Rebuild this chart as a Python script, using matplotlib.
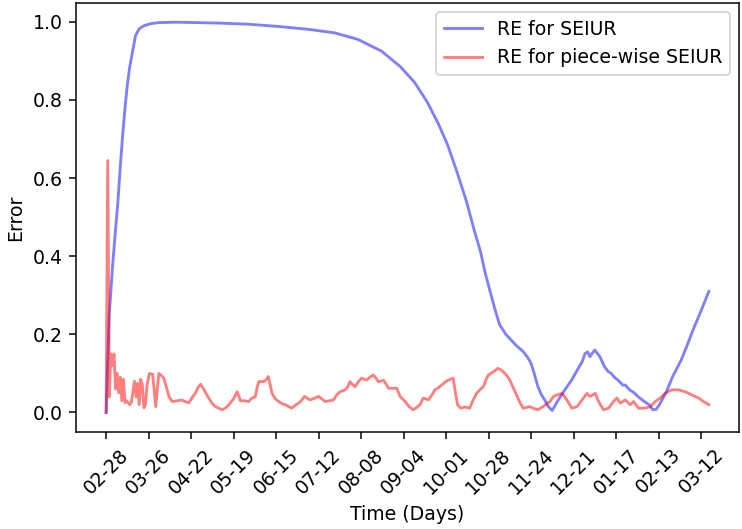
import matplotlib
matplotlib.use("Agg")
import matplotlib.pyplot as plt
import numpy as np

# Day offsets from 2020-02-28 and relative errors
seiur_days = [0, 1, 2, 4, 6, 7.5, 9, 10.5, 12, 13.5, 15, 16.6, 18.7, 21, 24, 28, 33,
              45, 70, 90, 110, 128, 145, 160, 175, 187, 196, 204, 211, 217, 223, 229,
              234, 238, 241, 244, 247, 250, 254, 257, 261, 265, 268, 270, 272, 274.4,
              276.5, 278.7, 281, 283.5, 285.5, 287.3, 291.5, 295.8, 300, 302.5, 304.3,
              306, 307.4, 309, 310.5, 313.7, 316.7, 319, 321, 323, 325.2, 328.4, 330,
              332.6, 335, 337.9, 342, 345, 347.4, 349.5, 351.6, 356, 360, 365.4, 369.7,
              372.8, 378, 383]
seiur_err = [0.0, 0.13, 0.25, 0.37, 0.47, 0.54, 0.63, 0.71, 0.78, 0.84, 0.885, 0.92,
             0.965, 0.982, 0.99, 0.995, 0.998,
             0.999, 0.997, 0.994, 0.988, 0.981, 0.972, 0.955, 0.925, 0.885, 0.845, 0.795,
             0.74, 0.685, 0.615, 0.54, 0.465, 0.41, 0.355, 0.31, 0.265, 0.225, 0.20,
             0.187, 0.17, 0.156, 0.14, 0.126, 0.10, 0.066, 0.046, 0.032, 0.015, 0.005,
             0.02, 0.032, 0.058, 0.083, 0.113, 0.13, 0.151, 0.155, 0.143, 0.152, 0.16,
             0.143, 0.117, 0.105, 0.1, 0.09, 0.083, 0.07, 0.07, 0.058, 0.052, 0.041,
             0.028, 0.02, 0.007, 0.008, 0.02, 0.053, 0.092, 0.134, 0.177, 0.21, 0.26, 0.31]

pw_days = [0, 1, 2, 3, 4, 5, 6, 7, 8, 9, 10, 11, 12, 13, 15, 16, 18, 19, 20, 21, 22, 23,
           24, 25, 26, 27.5, 29.5, 30.5, 31.5, 32.5, 33.5, 35, 36.6, 38.8, 40, 42, 45,
           48.3, 50, 52.6, 55, 56.8, 58.5, 60, 62, 64, 67, 69.4, 73.7, 76, 78, 81, 83.2,
           84.5, 85.3, 88, 90.6, 92, 94.8, 96, 97, 100, 101.5, 103, 104, 105.4, 107.5,
           109.6, 112, 113.8, 116, 118, 120, 122.3, 124, 126, 128, 129.6, 132, 135, 137,
           139.2, 142, 144.5, 146.5, 148.7, 151.9, 153.5, 155, 156.5, 158.2, 160.5,
           162.4, 164, 165.6, 167.5, 169.8, 171.5, 173, 174.5, 176.2, 178, 179.4, 182,
           184.7, 186.8, 190, 192.5, 195.2, 197, 199.4, 201.5, 203, 204.7, 207, 209, 211,
           213.2, 215.5, 217.4, 219, 220.5, 222, 223.3, 225.4, 228, 231, 233, 235.4,
           237.5, 239.7, 241.5, 242.9, 246, 249, 250.5, 252.4, 254.5, 256.5, 258.5,
           260.7, 263, 265, 267, 269.1, 272, 274.4, 277.6, 280, 282, 284.3, 286.5, 289.7,
           292.8, 296, 299.2, 302.4, 305.5, 307.6, 310.8, 312.9, 316, 319.2, 322.4,
           324.6, 326.7, 329.8, 333, 335.1, 338.3, 342.5, 345.7, 348.9, 352.1, 355.2,
           359.5, 363.7, 368, 372.2, 376.4, 379.6, 383]
pw_err = [0.0, 0.645, 0.04, 0.15, 0.12, 0.15, 0.06, 0.10, 0.05, 0.09, 0.03, 0.085, 0.025,
          0.03, 0.02, 0.025, 0.08, 0.04, 0.075, 0.02, 0.085, 0.07, 0.012, 0.02, 0.07,
          0.10, 0.098, 0.06, 0.015, 0.06, 0.10, 0.095, 0.088, 0.058, 0.04, 0.028, 0.03,
          0.032, 0.028, 0.025, 0.04, 0.05, 0.065, 0.072, 0.06, 0.045, 0.025, 0.015,
          0.007, 0.012, 0.02, 0.035, 0.053, 0.04, 0.03, 0.03, 0.028, 0.035, 0.041,
          0.065, 0.079, 0.079, 0.083, 0.092, 0.075, 0.049, 0.035, 0.028, 0.022, 0.02,
          0.015, 0.011, 0.018, 0.024, 0.03, 0.041, 0.036, 0.032, 0.036, 0.041, 0.035,
          0.028, 0.03, 0.032, 0.045, 0.053, 0.058, 0.065, 0.079, 0.072, 0.066, 0.08,
          0.088, 0.085, 0.083, 0.09, 0.096, 0.088, 0.079, 0.08, 0.083, 0.072, 0.062,
          0.062, 0.062, 0.041, 0.028, 0.015, 0.007, 0.012, 0.02, 0.037, 0.035, 0.032,
          0.045, 0.058, 0.063, 0.07, 0.078, 0.083, 0.085, 0.088, 0.05, 0.02, 0.011,
          0.014, 0.011, 0.03, 0.049, 0.058, 0.066, 0.085, 0.096, 0.104, 0.113, 0.11,
          0.104, 0.095, 0.083, 0.065, 0.045, 0.025, 0.011, 0.013, 0.015, 0.01, 0.007,
          0.015, 0.022, 0.028, 0.041, 0.045, 0.049, 0.032, 0.011, 0.015, 0.032, 0.049,
          0.041, 0.049, 0.028, 0.007, 0.011, 0.028, 0.037, 0.024, 0.032, 0.02, 0.028,
          0.011, 0.011, 0.015, 0.028, 0.037, 0.049, 0.058, 0.058, 0.053, 0.045, 0.037,
          0.028, 0.02]

tick_labels = ['02-28', '03-26', '04-22', '05-19', '06-15', '07-12', '08-08', '09-04',
               '10-01', '10-28', '11-24', '12-21', '01-17', '02-13', '03-12']
tick_step_days = 27

fig = plt.figure(figsize=(742 / 136, 529 / 136), dpi=136)
ax = fig.add_axes([76 / 742, 97 / 529, (739 - 76) / 742, (432 - 2.7) / 529])

ax.plot(seiur_days, seiur_err, color='b', alpha=0.5, label='RE for SEIUR')
ax.plot(pw_days, pw_err, color='r', alpha=0.5, label='RE for piece-wise SEIUR')

ax.set_xticks(np.arange(len(tick_labels)) * tick_step_days)
ax.set_xticklabels(tick_labels, rotation=45)
ax.set_xlabel('Time (Days)')
ax.set_ylabel('Error')
ax.legend(loc='upper right')

fig.savefig('out.png', dpi=136)
